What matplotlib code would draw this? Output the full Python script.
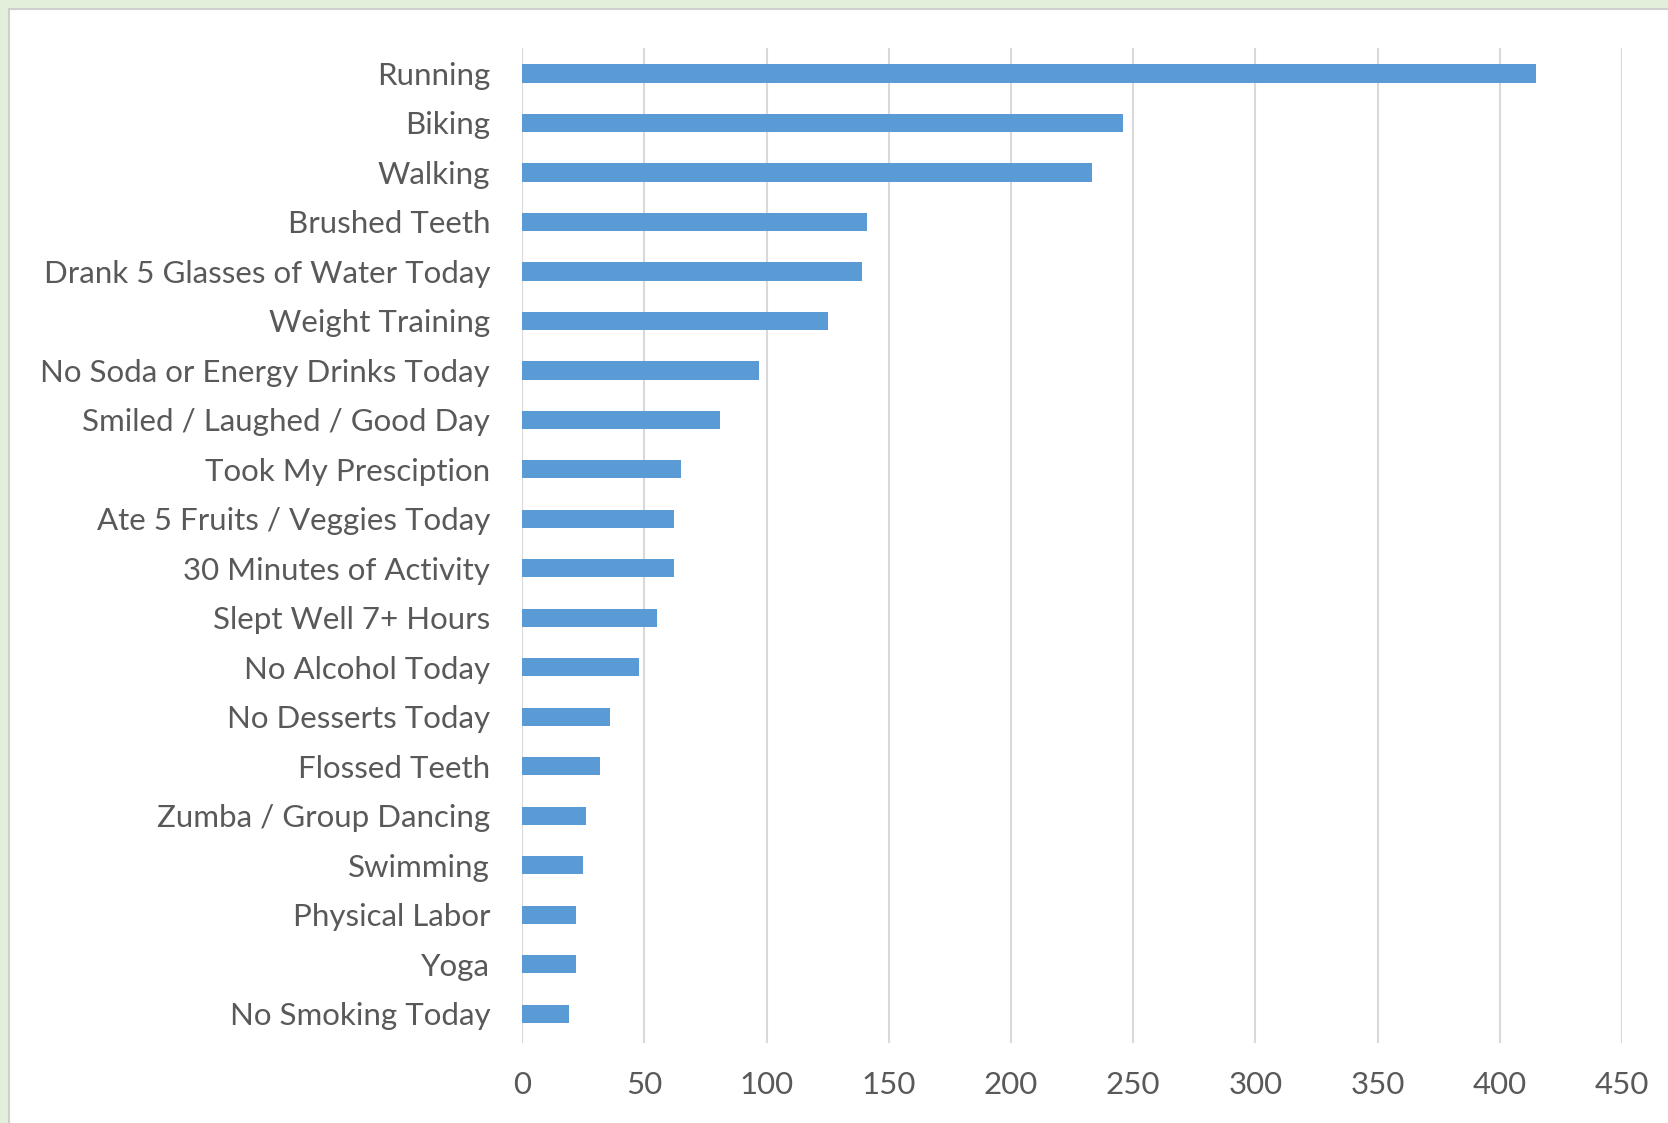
import matplotlib
matplotlib.use('Agg')
from matplotlib import pyplot as plt
import matplotlib.patches as mpatches
import numpy as np

activities = ['Running', 'Biking', 'Walking', 'Brushed Teeth',
              'Drank 5 Glasses of Water Today', 'Weight Training',
              'No Soda or Energy Drinks Today', 'Smiled / Laughed / Good Day',
              'Took My Presciption', 'Ate 5 Fruits / Veggies Today',
              '30 Minutes of Activity', 'Slept Well 7+ Hours',
              'No Alcohol Today', 'No Desserts Today', 'Flossed Teeth',
              'Zumba / Group Dancing', 'Swimming', 'Physical Labor', 'Yoga',
              'No Smoking Today']
counts = [415, 246, 233, 141, 139, 125, 97, 81, 65, 62,
          62, 55, 48, 36, 32, 26, 25, 22, 22, 19]
xticks = [0, 50, 100, 150, 200, 250, 300, 350, 400, 450]

plt.rcParams['font.family'] = ['Lato', 'DejaVu Sans']
text_color = '#595959'
grid_color = '#d9d9d9'

fig = plt.figure(figsize=(16.68, 11.23), dpi=100)
fig.patch.set_facecolor('#e2efda')
# white chart area with thin grey frame (only top/left visible)
fig.patches.append(mpatches.Rectangle((9 / 1668, -0.05), 1.1, 1 - 9 / 1123 + 0.05,
                                      transform=fig.transFigure,
                                      facecolor='white', edgecolor='#cfcfcf',
                                      linewidth=1.5, zorder=-5))

ax = fig.add_axes([0.313, 0.0712, 0.6594, 0.8861])
ax.set_facecolor('none')

y = np.arange(len(activities))
ax.barh(y, counts, height=0.37, color='#5b9bd5', zorder=2)

ax.set_xlim(0, 450)
ax.set_ylim(len(activities) - 0.41, -0.513)
ax.set_xticks(xticks)
ax.set_yticks(y)
ax.set_yticklabels(activities)

ax.grid(axis='x', color=grid_color, linewidth=1.5, zorder=1)
for s in ax.spines.values():
    s.set_visible(False)
ax.tick_params(axis='both', length=0, colors=text_color, labelsize=22.5)
ax.tick_params(axis='y', pad=23)
ax.tick_params(axis='x', pad=20)

plt.savefig('out.png', dpi=100)
